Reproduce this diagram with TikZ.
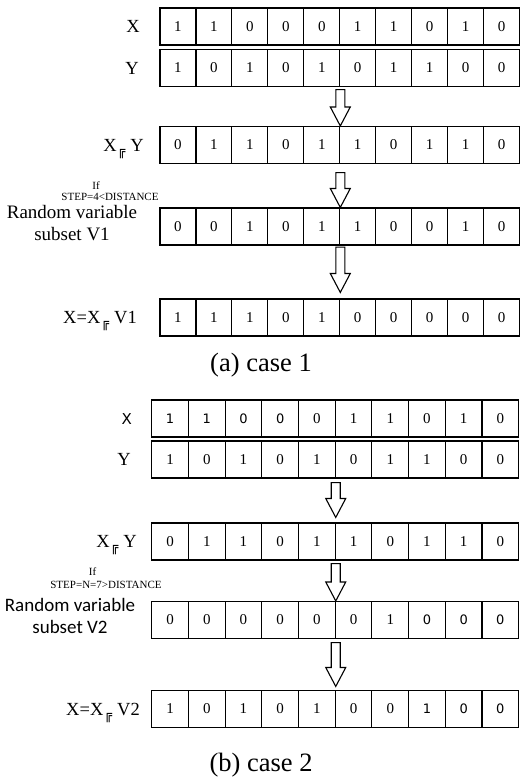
\documentclass[tikz,border=0pt]{standalone}
\usepackage{fontspec}
\setmainfont{Liberation Serif}
\newfontfamily\dsans{DejaVu Sans}
\newfontfamily\calib{Carlito}
\usetikzlibrary{calc}

% XOR mark as printed in the labels
\newcommand\xorsym{\raisebox{-4pt}{\dsans\fontsize{13}{13}\selectfont ╔}}

% one register of ten bit cells: name, left x, centre y, cell width, digits
\newcommand\bitrow[5]{%
  \foreach \d [count=\i] in {#5}{%
    \node[cell, minimum width=#4pt] (#1c\i) at ({#2+(\i-0.5)*#4},#3) {\d};}}

% hollow block arrow pointing down from #1 to #2
\newcommand\blockdown[2]{%
  \draw[hollow] let \p1=(#1), \p2=(#2) in
    (\x1-4.5pt,\y1) -- (\x1-4.5pt,\y2+19pt) -- (\x1-10pt,\y2+19pt) -- (\x1,\y2)
    -- (\x1+10pt,\y2+19pt) -- (\x1+4.5pt,\y2+19pt) -- (\x1+4.5pt,\y1) -- cycle;}

% sans digit used in some cells of the second case
\newcommand\sd[1]{{\dsans\fontsize{13}{13}\selectfont #1}}

\tikzset{
  cell/.style={draw, line width=1.1pt, minimum height=37pt, inner sep=0pt,
    font=\rmfamily\fontsize{15}{15}\selectfont},
  lab/.style={anchor=base east, inner sep=0pt, font=\rmfamily\fontsize{18.5}{18.5}\selectfont},
  twoline/.style={align=center, inner sep=0pt, font=\rmfamily\fontsize{19}{22}\selectfont},
  note/.style={inner sep=0pt, font=\rmfamily\fontsize{11}{11}\selectfont},
  caption/.style={inner sep=0pt, font=\rmfamily\fontsize{26.5}{26.5}\selectfont},
  hollow/.style={draw, line width=1.1pt, fill=white, line join=miter},
}

\begin{document}
\begin{tikzpicture}[x=1pt,y=-1pt]
\useasboundingbox[fill=white] (0,0) rectangle (520,777);

% ---------- case 1 ----------
\bitrow{ax}{160}{26.5}{35.95}{1,1,0,0,0,1,1,0,1,0}
\bitrow{ay}{160}{68}{35.95}{1,0,1,0,1,0,1,1,0,0}
\bitrow{axy}{160}{145}{35.95}{0,1,1,0,1,1,0,1,1,0}
\bitrow{av}{160}{226.5}{35.95}{0,0,1,0,1,1,0,0,1,0}
\bitrow{ar}{160}{317.5}{35.95}{1,1,1,0,1,0,0,0,0,0}

\node[lab] (alx) at (140,32.5) {X};
\node[lab] (aly) at (139,74) {Y};
\node[lab] (alxy) at (144,151) {X\kern1pt\xorsym\kern5pt Y};
\node[twoline] (alv) at (72,223) {Random variable\\subset V1};
\node[lab] (alr) at (137,323.5) {X=X\kern1pt\xorsym\kern5pt V1};

\node[note] (aif) at (96,186) {If};
\node[note] (astep) at (110,197) {STEP=4<DISTANCE};

\coordinate (aa1) at ([yshift=-2.5pt]ayc5.south east);
\coordinate (aa2) at ([yshift=-8.5pt]axyc5.south east);
\coordinate (aa3) at ([yshift=-1.5pt]avc5.south east);
\coordinate (aa3t) at ([yshift=6pt]arc5.north east);
\blockdown{aa1}{axyc5.north east}
\blockdown{aa2}{avc5.north east}
\blockdown{aa3}{aa3t}

\node[caption] (acap) at (261,365) {(a) case 1};

% ---------- case 2 ----------
\bitrow{bx}{151.7}{418.5}{36.7}{\sd1,\sd1,\sd0,\sd0,0,1,1,0,1,0}
\bitrow{by}{151.7}{459.5}{36.7}{1,0,1,0,1,0,1,1,0,0}
\bitrow{bxy}{151.7}{541.5}{36.7}{0,1,1,0,1,1,0,1,1,0}
\bitrow{bv}{151.7}{620}{36.7}{0,0,0,0,0,0,1,\sd0,\sd0,\sd0}
\bitrow{br}{151.7}{709}{36.7}{1,0,1,0,1,0,0,\sd1,\sd0,\sd0}

\node[lab, font=\dsans\fontsize{15}{15}\selectfont] (blx) at (132,424) {X};
\node[lab] (bly) at (131,465.5) {Y};
\node[lab] (blxy) at (137,547.5) {X\kern1pt\xorsym\kern5pt Y};
\node[twoline, font=\calib\fontsize{19}{22}\selectfont] (blv) at (70,616) {Random variable\\subset V2};
\node[lab] (blr) at (140,715) {X=X\kern1pt\xorsym\kern5pt V2};

\node[note] (bif) at (92.5,572) {If};
\node[note] (bstep) at (106,585) {STEP=N=7>DISTANCE};

\coordinate (ba1) at ([yshift=-4pt]byc5.south east);
\coordinate (ba1t) at ([yshift=5pt]bxyc5.north east);
\coordinate (ba2) at ([yshift=-3pt]bxyc5.south east);
\coordinate (ba3) at ([yshift=-3.5pt]bvc5.south east);
\coordinate (ba3t) at ([yshift=3.5pt]brc5.north east);
\blockdown{ba1}{ba1t}
\blockdown{ba2}{bvc5.north east}
\blockdown{ba3}{ba3t}

\node[caption] (bcap) at (261,765) {(b) case 2};
\end{tikzpicture}
\end{document}
